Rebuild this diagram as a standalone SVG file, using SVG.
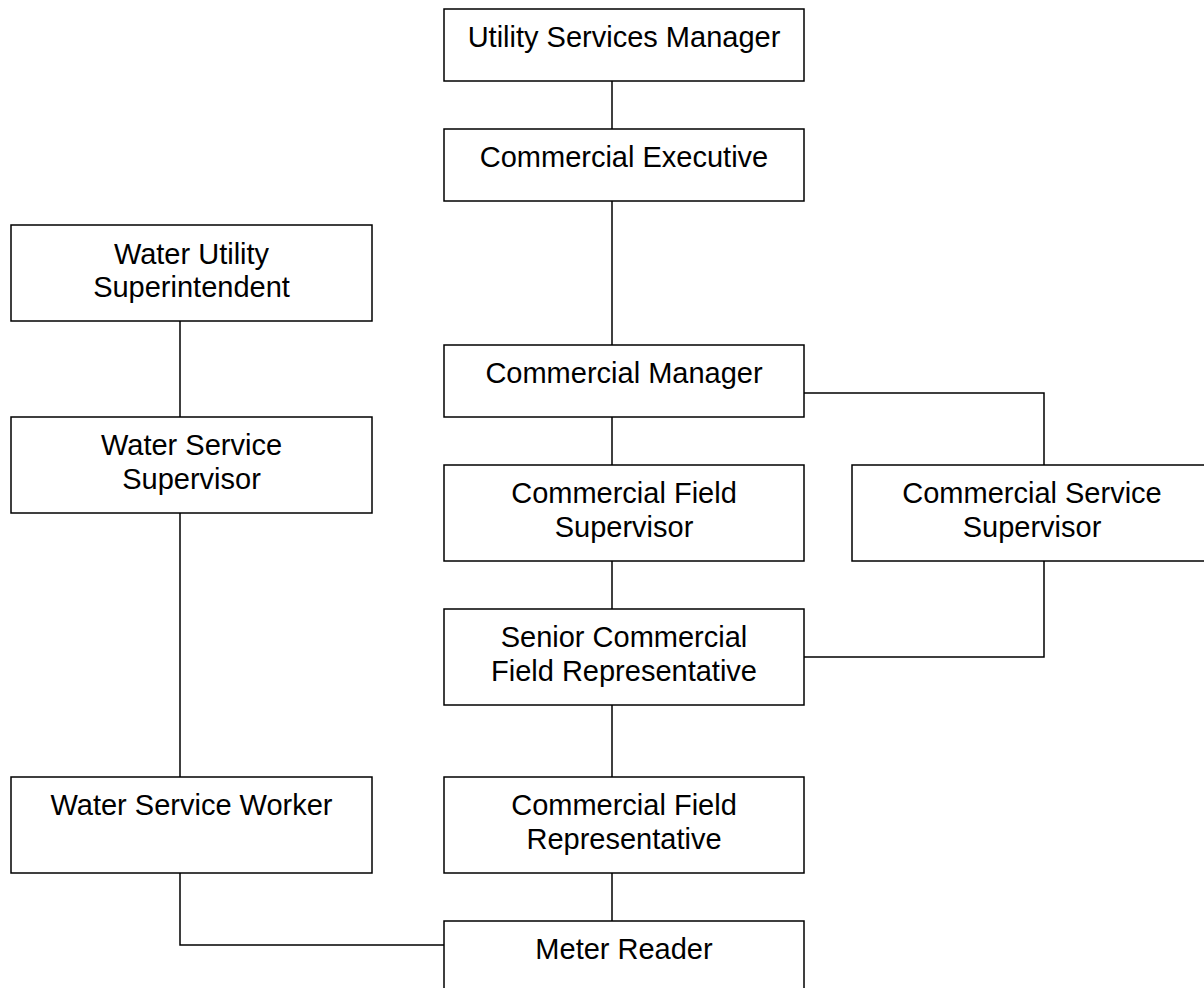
<svg xmlns="http://www.w3.org/2000/svg" width="1204" height="988" viewBox="0 0 1204 988">
<style>
.box{fill:#fff;stroke:#000;stroke-width:1.5}
.lbl{font-family:"Liberation Sans",Arial,sans-serif;font-size:29px;fill:#000;text-anchor:middle}
.conn{fill:none;stroke:#000;stroke-width:1.5}
</style>
<rect width="1204" height="988" fill="#fff"/>
<g id="connectors">
<path class="conn" d="M612 81V129"/>
<path class="conn" d="M612 201V345"/>
<path class="conn" d="M612 417V465"/>
<path class="conn" d="M804 393H1044V465"/>
<path class="conn" d="M612 561V609"/>
<path class="conn" d="M1044 561V657H804"/>
<path class="conn" d="M612 705V777"/>
<path class="conn" d="M612 873V921"/>
<path class="conn" d="M180 321V417"/>
<path class="conn" d="M180 513V777"/>
<path class="conn" d="M180 873V945H444"/>
</g>
<g id="usm"><rect class="box" x="444" y="9" width="360" height="72"/><text class="lbl" x="624" y="47">Utility Services Manager</text></g>
<g id="ce"><rect class="box" x="444" y="129" width="360" height="72"/><text class="lbl" x="624" y="167">Commercial Executive</text></g>
<g id="cm"><rect class="box" x="444" y="345" width="360" height="72"/><text class="lbl" x="624" y="383">Commercial Manager</text></g>
<g id="cfs"><rect class="box" x="444" y="465" width="360" height="96"/><text class="lbl" x="624" y="503">Commercial Field</text><text class="lbl" x="624" y="537">Supervisor</text></g>
<g id="css"><rect class="box" x="852" y="465" width="360" height="96"/><text class="lbl" x="1032" y="503">Commercial Service</text><text class="lbl" x="1032" y="537">Supervisor</text></g>
<g id="scfr"><rect class="box" x="444" y="609" width="360" height="96"/><text class="lbl" x="624" y="647">Senior Commercial</text><text class="lbl" x="624" y="681">Field Representative</text></g>
<g id="cfr"><rect class="box" x="444" y="777" width="360" height="96"/><text class="lbl" x="624" y="815">Commercial Field</text><text class="lbl" x="624" y="849">Representative</text></g>
<g id="mr"><rect class="box" x="444" y="921" width="360" height="96"/><text class="lbl" x="624" y="959">Meter Reader</text></g>
<g id="wus"><rect class="box" x="11" y="225" width="361" height="96"/><text class="lbl" x="191.5" y="264">Water Utility</text><text class="lbl" x="191.5" y="297">Superintendent</text></g>
<g id="wss"><rect class="box" x="11" y="417" width="361" height="96"/><text class="lbl" x="191.5" y="455">Water Service</text><text class="lbl" x="191.5" y="489">Supervisor</text></g>
<g id="wsw"><rect class="box" x="11" y="777" width="361" height="96"/><text class="lbl" x="191.5" y="815">Water Service Worker</text></g>
</svg>
